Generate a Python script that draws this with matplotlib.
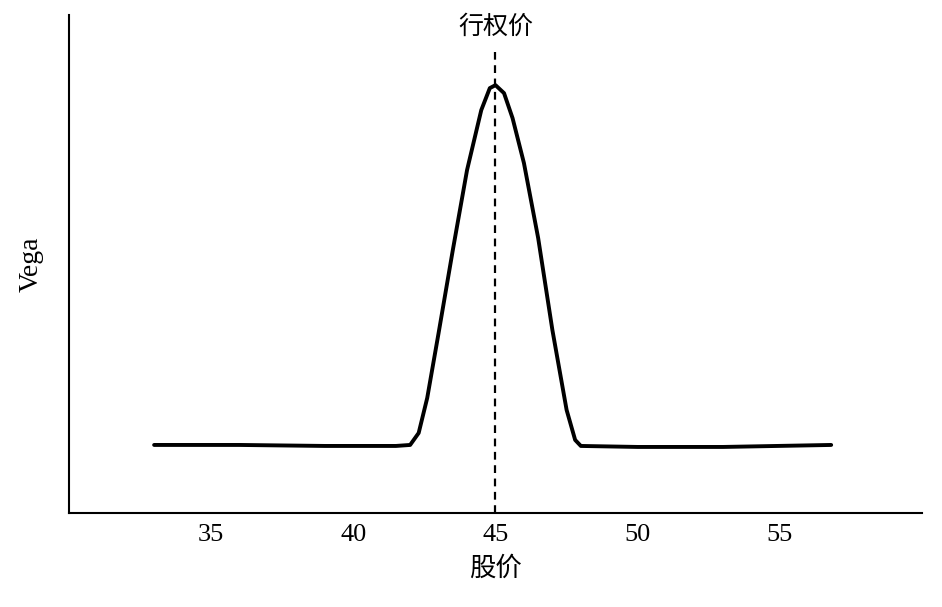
import matplotlib
matplotlib.use("Agg")
import matplotlib.pyplot as plt

# stock price vs vega (arbitrary units)
price = [33, 36, 39, 41.5, 42, 42.3, 42.6, 43, 43.5, 44, 44.5, 44.8, 45, 45.3, 45.6,
         46, 46.5, 47, 47.5, 47.8, 48, 50, 53, 56.8]
vega = [68, 68, 67, 67, 68, 80, 115, 180, 263, 343, 403, 425, 428, 420, 395,
        350, 275, 183, 103, 73, 67, 66, 66, 68]
strike = 45
xticks = [35, 40, 45, 50, 55]

cjk = ["Noto Sans CJK SC", "DejaVu Sans"]
serif = "Liberation Serif"

fig = plt.figure(figsize=(9.42, 6.07), dpi=100)
ax = fig.add_axes([0.073, 0.155, 0.906, 0.82])

ax.plot(price, vega, color="black", lw=2.8, solid_capstyle="round")
ax.plot([strike, strike], [0, 461], color="black", lw=1.6, ls=(0, (3.5, 2.5)))
ax.text(strike, 486, "行权价", ha="center", va="center", fontsize=18, family=cjk)

ax.set_xlim(30, 60)
ax.set_ylim(0, 498)
ax.set_xticks(xticks)
ax.set_xticklabels([str(t) for t in xticks], family=serif, fontsize=19)
ax.tick_params(axis="x", length=0, pad=8)
ax.set_yticks([])
for s in ["top", "right"]:
    ax.spines[s].set_visible(False)
ax.spines["left"].set_linewidth(1.5)
ax.spines["bottom"].set_linewidth(1.5)

ax.set_xlabel("股价", family=cjk, fontsize=19, labelpad=6)
ax.set_ylabel("Vega", family=serif, fontsize=20, labelpad=18)

fig.savefig("out.png", dpi=100)
